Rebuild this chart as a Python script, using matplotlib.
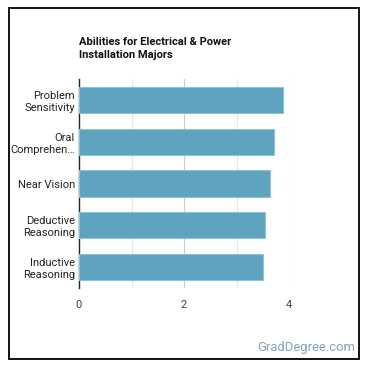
import matplotlib
matplotlib.use("Agg")
import matplotlib.pyplot as plt
from matplotlib.patches import Rectangle

categories = ["Problem\nSensitivity", "Oral\nComprehen…", "Near Vision", "Deductive\nReasoning", "Inductive\nReasoning"]
values = [3.88, 3.72, 3.64, 3.55, 3.51]
xticks = [0, 2, 4]
title = "Abilities for Electrical & Power\nInstallation Majors"

plt.rcParams['font.family'] = ['Roboto', 'DejaVu Sans']

W = 370
fig = plt.figure(figsize=(3.7, 3.7), dpi=100)
fig.patch.set_facecolor('white')

fig.patches.append(Rectangle((9/W, 1-359/W), 350/W, 351/W, transform=fig.transFigure,
                             fill=False, edgecolor='black', linewidth=1.3))

left, right, top, bottom = 79, 289, 79, 288
ax = fig.add_axes([left/W, 1-bottom/W, (right-left)/W, (bottom-top)/W])
ypos = list(range(len(categories)))
ax.barh(ypos, values, height=0.63, color='#5ea3c0', edgecolor='#8fc2d6', linewidth=0.8, zorder=3)
ax.set_ylim(len(categories)-0.5, -0.5)
ax.set_xlim(0, 4)
ax.set_xticks(xticks)
ax.set_xticks([1, 3], minor=True)
ax.grid(axis='x', which='major', color='#cccccc', linewidth=0.8, zorder=0)
ax.grid(axis='x', which='minor', color='#e6e6e6', linewidth=0.8, zorder=0)
ax.set_yticks(ypos)
ax.set_yticklabels(categories, fontsize=8, color='#222222', linespacing=1.25)
ax.tick_params(axis='both', length=0)
ax.tick_params(axis='x', which='both', length=0, pad=9, labelsize=8, labelcolor='#444444')
ax.tick_params(axis='y', pad=3)
for s in ['top', 'right', 'bottom']:
    ax.spines[s].set_visible(False)
ax.spines['left'].set_color('#222222')
ax.spines['left'].set_linewidth(1.0)
ax.set_facecolor('white')

fig.text(79/W, 1-37/W, title, fontsize=8, fontweight='bold', color='#111111',
         va='top', ha='left', linespacing=1.36)
fig.text(355/W, 1-348/W, "GradDegree.com", fontsize=9.4, color='#7fa4bb', ha='right', va='center')

fig.savefig('out.png', dpi=100, facecolor='white')
